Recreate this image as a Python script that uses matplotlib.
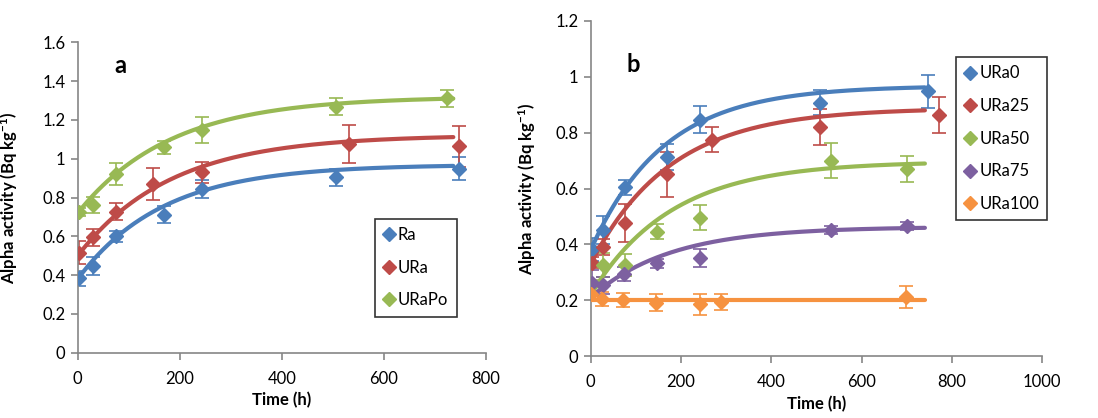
import matplotlib
matplotlib.use("Agg")
import matplotlib.pyplot as plt
import numpy as np
from matplotlib.lines import Line2D

plt.rcParams["font.family"] = ["Lato", "DejaVu Sans"]
plt.rcParams["mathtext.fontset"] = "custom"
plt.rcParams["mathtext.bf"] = "Lato:bold"
plt.rcParams["mathtext.rm"] = "Lato"
plt.rcParams["mathtext.default"] = "bf"

# ─── panel a: Ra / URa / URaPo ─────────────────
a_names = ["Ra", "URa", "URaPo"]
a_colors = ["#4A7EBB", "#BE4B48", "#98B954"]
a_time = [
    [3, 29, 74, 170, 244, 507, 748],
    [3, 29, 74, 147, 244, 532, 748],
    [3, 29, 74, 170, 244, 507, 724],
]
a_value = [
    [0.383, 0.447, 0.600, 0.712, 0.845, 0.904, 0.949],
    [0.516, 0.595, 0.727, 0.868, 0.930, 1.076, 1.064],
    [0.727, 0.761, 0.921, 1.058, 1.148, 1.268, 1.311],
]
a_err = [
    [0.040, 0.047, 0.030, 0.045, 0.045, 0.045, 0.060],
    [0.060, 0.045, 0.043, 0.083, 0.055, 0.097, 0.105],
    [0.020, 0.040, 0.055, 0.035, 0.067, 0.045, 0.045],
]
# ingrowth fit: y = plateau - (plateau - start) * exp(-rate * t)
a_start = [0.38, 0.50, 0.72]
a_plateau = [0.970, 1.122, 1.320]
a_rate = [0.0060, 0.0055, 0.0055]
a_tend = [736, 736, 736]

# ─── panel b: URa0 ... URa100 ─────────────────
b_names = ["URa0", "URa25", "URa50", "URa75", "URa100"]
b_colors = ["#4A7EBB", "#BE4B48", "#98B954", "#7D60A0", "#F69240"]
b_time = [
    [2, 28, 76, 170, 243, 508, 746],
    [2, 28, 76, 170, 268, 508, 772],
    [2, 28, 76, 146, 243, 531, 700],
    [2, 28, 74, 146, 243, 531, 700],
    [0, 25, 72, 144, 242, 289, 698],
]
b_value = [
    [0.382, 0.451, 0.604, 0.713, 0.847, 0.907, 0.948],
    [0.334, 0.391, 0.477, 0.651, 0.775, 0.821, 0.862],
    [0.254, 0.326, 0.326, 0.445, 0.496, 0.699, 0.669],
    [0.262, 0.254, 0.293, 0.332, 0.352, 0.451, 0.465],
    [0.224, 0.206, 0.200, 0.191, 0.186, 0.194, 0.212],
]
b_err = [
    [0.040, 0.050, 0.027, 0.045, 0.048, 0.045, 0.060],
    [0.020, 0.030, 0.068, 0.080, 0.044, 0.065, 0.065],
    [0.020, 0.043, 0.040, 0.027, 0.044, 0.063, 0.047],
    [0.047, 0.030, 0.025, 0.015, 0.033, 0.015, 0.015],
    [0.010, 0.025, 0.025, 0.030, 0.037, 0.030, 0.040],
]
b_start = [0.38, 0.33, 0.22, 0.21, 0.20]
b_plateau = [0.968, 0.888, 0.697, 0.463, 0.20]
b_rate = [0.0062, 0.0057, 0.0056, 0.0057, 0.0]
b_tend = [740, 740, 740, 740, 740]

AXIS_GREY = "#868686"


def style_axes(ax, xmax, xstep, ymax, ystep):
    ax.set_xlim(0, xmax)
    ax.set_ylim(0, ymax)
    ax.set_xticks(np.arange(0, xmax + 1, xstep))
    ax.set_yticks(np.round(np.arange(0, ymax + 1e-9, ystep), 1))
    ax.yaxis.set_major_formatter(matplotlib.ticker.FormatStrFormatter("%g"))
    for side in ("top", "right"):
        ax.spines[side].set_visible(False)
    for side in ("left", "bottom"):
        ax.spines[side].set_color(AXIS_GREY)
        ax.spines[side].set_linewidth(1.2)
    ax.tick_params(axis="both", direction="out", length=5, width=1.2,
                   color=AXIS_GREY, labelsize=12, pad=4)
    ax.tick_params(axis="x", pad=8)
    ax.set_xlabel("Time (h)", fontsize=12, fontweight="bold")
    ax.set_ylabel(r"Alpha activity (Bq kg$^{-1}$)", fontsize=12, fontweight="bold")


def draw_panel(ax, names, colors, times, values, errs, starts, plateaus, rates, tends):
    for i, name in enumerate(names):
        ax.errorbar(times[i], values[i], yerr=errs[i], fmt="none", ecolor=colors[i],
                    elinewidth=1.2, capsize=5, capthick=1.2, zorder=2)
        t = np.linspace(0, tends[i], 300)
        fit = plateaus[i] - (plateaus[i] - starts[i]) * np.exp(-rates[i] * t)
        ax.plot(t, fit, color=colors[i], lw=3, solid_capstyle="round", zorder=3)
        ax.plot(times[i], values[i], "D", color=colors[i], ms=7.5, mec=colors[i],
                ls="none", zorder=4)


def add_legend(ax, names, colors, loc, spacing):
    handles = [Line2D([], [], marker="D", color=c, ls="none", ms=7) for c in colors]
    leg = ax.legend(handles, names, loc="upper left", bbox_to_anchor=loc,
                    frameon=True, fancybox=False, fontsize=12, handlelength=0.7,
                    handletextpad=0.2, labelspacing=spacing, borderpad=0.5,
                    borderaxespad=0)
    leg.get_frame().set_edgecolor("black")
    leg.get_frame().set_linewidth(1.2)


fig = plt.figure(figsize=(10.98, 4.18), dpi=100)
ax_a = fig.add_axes([0.0708, 0.156, 0.3718, 0.743])
ax_b = fig.add_axes([0.538, 0.148, 0.4113, 0.802])

draw_panel(ax_a, a_names, a_colors, a_time, a_value, a_err,
           a_start, a_plateau, a_rate, a_tend)
style_axes(ax_a, 800, 200, 1.6, 0.2)
ax_a.yaxis.set_label_coords(-0.141, 0.5)
ax_a.text(0.105, 0.925, "a", transform=ax_a.transAxes, fontsize=17,
          fontweight="bold", ha="center", va="center")
add_legend(ax_a, a_names, a_colors, (0.727, 0.432), 1.0)

draw_panel(ax_b, b_names, b_colors, b_time, b_value, b_err,
           b_start, b_plateau, b_rate, b_tend)
style_axes(ax_b, 1000, 200, 1.2, 0.2)
ax_b.yaxis.set_label_coords(-0.117, 0.5)
ax_b.text(0.095, 0.87, "b", transform=ax_b.transAxes, fontsize=17,
          fontweight="bold", ha="center", va="center")
add_legend(ax_b, b_names, b_colors, (0.809, 0.892), 1.0)

fig.savefig("out.png", dpi=100)
